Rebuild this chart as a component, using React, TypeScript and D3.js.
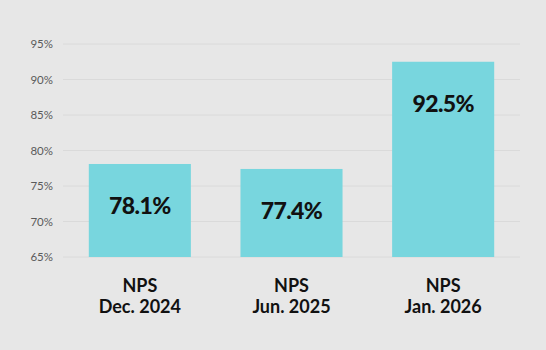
import React from "react";
import * as d3 from "d3";

const categoriesLine1 = ["NPS", "NPS", "NPS"];
const categoriesLine2 = ["Dec. 2024", "Jun. 2025", "Jan. 2026"];
const values = [78.1, 77.4, 92.5];
const yTicks = [65, 70, 75, 80, 85, 90, 95];

const W = 546;
const H = 350;

export default function App() {
  const x = d3
    .scaleBand<number>()
    .domain(values.map((_, i) => i))
    .range([64, 519])
    .paddingInner(0.327)
    .paddingOuter(0.1635);
  const y = d3.scaleLinear().domain([65, 95]).range([257, 44]);

  return (
    <svg
      width={W}
      height={H}
      style={{ position: "absolute", left: 0, top: 0, display: "block" }}
    >
      <rect x={0} y={0} width={W} height={H} fill="#e7e7e7" />
      {yTicks.map((t) => (
        <g key={t}>
          <line x1={63} x2={520} y1={y(t)} y2={y(t)} stroke="#dadada" strokeWidth={1} />
          <text
            x={53}
            y={y(t)}
            dy="0.35em"
            textAnchor="end"
            fontFamily="Lato, 'Open Sans', sans-serif"
            fontSize={11.5}
            fill="#5a5a5a"
          >
            {t}%
          </text>
        </g>
      ))}
      {values.map((v, i) => {
        const top = y(v);
        const bottom = y(65);
        const cy = Math.min((top + bottom) / 2, top + 42);
        const cx = (x(i) as number) + x.bandwidth() / 2;
        return (
          <g key={i}>
            <rect
              x={x(i)}
              y={top}
              width={x.bandwidth()}
              height={bottom - top}
              fill="#78d6de"
            />
            <text
              x={cx}
              y={cy}
              dy="0.36em"
              textAnchor="middle"
              fontFamily="Lato, sans-serif"
              fontWeight={900}
              fontSize={23}
              letterSpacing={-0.6}
              fill="#111"
            >
              {v.toFixed(1)}%
            </text>
            <text
              x={cx}
              y={292}
              textAnchor="middle"
              fontFamily="Lato, sans-serif"
              fontWeight={700}
              fontSize={18}
              fill="#111"
            >
              {categoriesLine1[i]}
            </text>
            <text
              x={cx}
              y={313}
              textAnchor="middle"
              fontFamily="Lato, sans-serif"
              fontWeight={700}
              fontSize={18}
              fill="#111"
            >
              {categoriesLine2[i]}
            </text>
          </g>
        );
      })}
    </svg>
  );
}
